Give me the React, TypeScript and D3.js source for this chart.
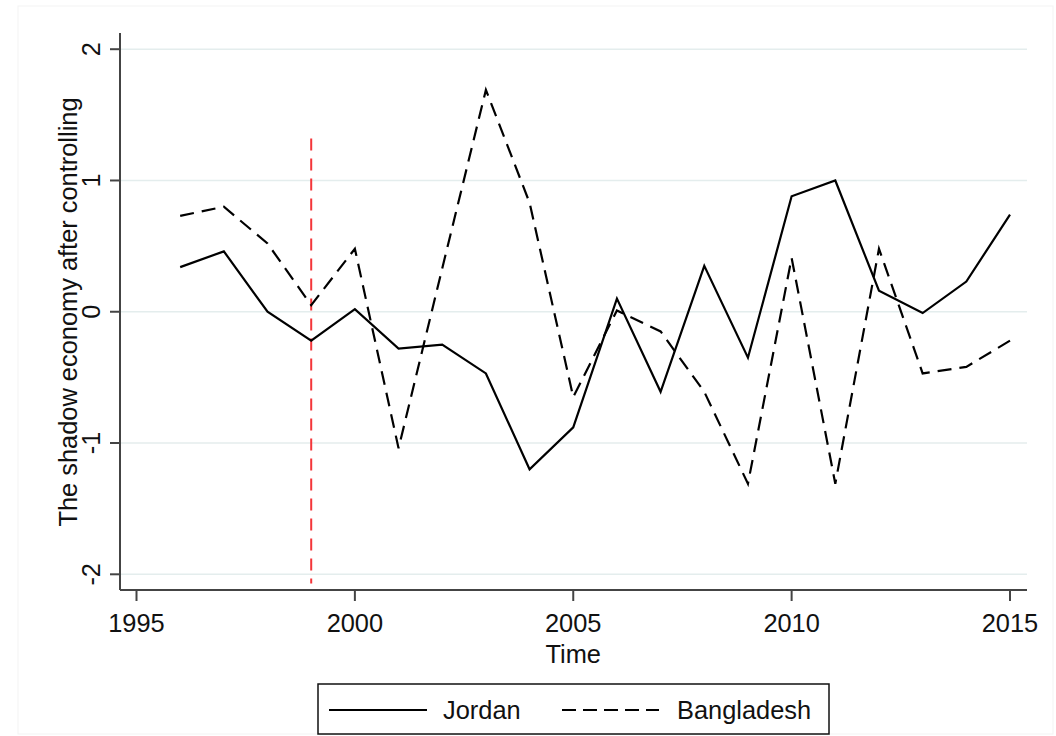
import React from "react";
import * as d3 from "d3";

const years = [1996, 1997, 1998, 1999, 2000, 2001, 2002, 2003, 2004, 2005, 2006, 2007, 2008, 2009, 2010, 2011, 2012, 2013, 2014, 2015];
const jordan = [0.34, 0.46, 0.0, -0.22, 0.02, -0.28, -0.25, -0.47, -1.2, -0.88, 0.1, -0.61, 0.35, -0.35, 0.88, 1.0, 0.16, -0.01, 0.23, 0.74];
const bangladesh = [0.73, 0.8, 0.52, 0.05, 0.48, -1.04, 0.33, 1.69, 0.83, -0.65, 0.01, -0.15, -0.61, -1.31, 0.41, -1.31, 0.48, -0.47, -0.42, -0.22];
const xTicks = [1995, 2000, 2005, 2010, 2015];
const yTicks = [-2, -1, 0, 1, 2];
const treatmentYear = 1999;
const treatmentSpan = [-2.07, 1.32];

const W = 1056;
const H = 736;
const FONT = "'Liberation Sans', Arial, sans-serif";
const FS = 25.4;

export default function App() {
  const x = d3.scaleLinear().domain([1995, 2015]).range([136.5, 1010]);
  const y = d3.scaleLinear().domain([-2, 2]).range([574.3, 49.2]);
  const axisLeft = 120;
  const axisRight = 1027;
  const axisBottom = 590;
  const axisTop = 33;

  const line = d3
    .line<number>()
    .x((_, i) => x(years[i]))
    .y((v) => y(v));

  return (
    <svg width={W} height={H} style={{ position: "absolute", left: 0, top: 0, background: "#fff" }} fontFamily={FONT}>
      <rect x={18} y={6} width={1035} height={728} fill="none" stroke="#f3f3f3" strokeWidth={1} />
      {/* horizontal gridlines */}
      {yTicks.map((t) => (
        <line key={"g" + t} x1={axisLeft} x2={axisRight} y1={y(t)} y2={y(t)} stroke="#e4eded" strokeWidth={1.5} />
      ))}
      {/* treatment marker */}
      <line
        x1={x(treatmentYear)}
        x2={x(treatmentYear)}
        y1={y(treatmentSpan[1])}
        y2={y(treatmentSpan[0])}
        stroke="#f4363a"
        strokeWidth={2}
        strokeDasharray="12 8"
      />
      {/* series */}
      <path d={line(jordan) || ""} fill="none" stroke="#000" strokeWidth={2.2} strokeLinejoin="miter" />
      <path d={line(bangladesh) || ""} fill="none" stroke="#000" strokeWidth={2.2} strokeDasharray="14 8" />
      {/* y axis */}
      <line x1={axisLeft} x2={axisLeft} y1={axisTop} y2={axisBottom} stroke="#444" strokeWidth={2} />
      {yTicks.map((t) => (
        <g key={"y" + t}>
          <line x1={axisLeft - 10} x2={axisLeft} y1={y(t)} y2={y(t)} stroke="#444" strokeWidth={2} />
          <text transform={`translate(${99.5},${y(t)}) rotate(-90)`} textAnchor="middle" fontSize={FS} fill="#111">
            {t}
          </text>
        </g>
      ))}
      <text transform={`translate(${76.5},${312}) rotate(-90)`} textAnchor="middle" fontSize={FS} fill="#111">
        The shadow economy after controlling
      </text>
      {/* x axis */}
      <line x1={axisLeft} x2={axisRight} y1={axisBottom} y2={axisBottom} stroke="#444" strokeWidth={2} />
      {xTicks.map((t) => (
        <g key={"x" + t}>
          <line x1={x(t)} x2={x(t)} y1={axisBottom} y2={axisBottom + 11} stroke="#444" strokeWidth={2} />
          <text x={x(t)} y={632} textAnchor="middle" fontSize={FS} fill="#111">
            {t}
          </text>
        </g>
      ))}
      <text x={x(2005)} y={663} textAnchor="middle" fontSize={FS} fill="#111">
        Time
      </text>
      {/* legend */}
      <rect x={318} y={684} width={511} height={50} fill="#fff" stroke="#111" strokeWidth={1.5} />
      <line x1={329} x2={427} y1={710} y2={710} stroke="#000" strokeWidth={2} />
      <text x={443} y={718.5} fontSize={FS} fill="#111">
        Jordan
      </text>
      <line x1={562} x2={659} y1={710} y2={710} stroke="#000" strokeWidth={2} strokeDasharray="14 7" />
      <text x={677} y={718.5} fontSize={FS} fill="#111">
        Bangladesh
      </text>
    </svg>
  );
}
